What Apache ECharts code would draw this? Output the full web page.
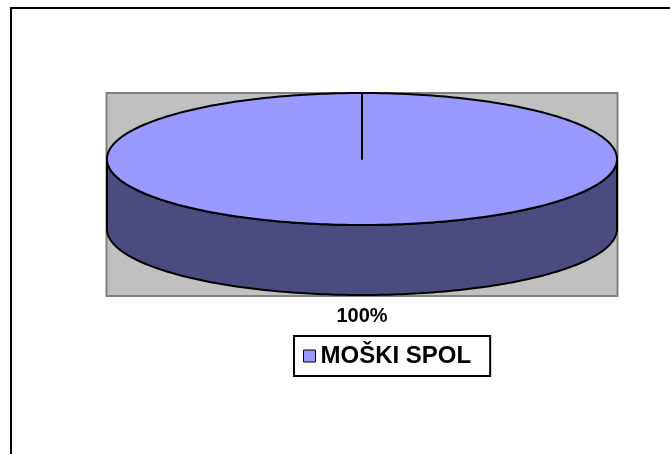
<!DOCTYPE html>
<html>
<head>
<meta charset="utf-8">
<script src="https://cdn.jsdelivr.net/npm/echarts@6/dist/echarts.min.js"></script>
<style>
html, body { margin: 0; padding: 0; background: #fff; }
#main { width: 670px; height: 454px; }
</style>
</head>
<body>
<div id="main"></div>
<script>
// chart data
var categories = ['MOŠKI SPOL'];
var values = [100];

// palette (top face / side face)
var topColors = ['#9999FF'];
var sideColors = ['#4B4B80'];

var pie = { cx: 362, cy: 159, rx: 255, ry: 66, depth: 70 };
var fontName = '"Liberation Sans", Arial, sans-serif';

var total = 0;
for (var k = 0; k < values.length; k++) total += values[k];

function ellipsePt(a, dy) {
	return [pie.cx + pie.rx * Math.cos(a), pie.cy + dy + pie.ry * Math.sin(a)];
}
function arcPts(a0, a1, dy) {
	var n = Math.max(2, Math.ceil(Math.abs(a1 - a0) / (Math.PI / 180)));
	var pts = [];
	for (var i = 0; i <= n; i++) {
		pts.push(ellipsePt(a0 + (a1 - a0) * i / n, dy));
	}
	return pts;
}

var renderSlice = function(params, api) {
	var idx = api.value(0);
	var before = 0;
	for (var j = 0; j < idx; j++) before += values[j];
	var a0 = -Math.PI / 2 + before / total * 2 * Math.PI;
	var a1 = a0 + api.value(1) / total * 2 * Math.PI;
	var children = [];
	// front wall, only the part facing the viewer
	var s0 = Math.max(a0, 0), s1 = Math.min(a1, Math.PI);
	if (s1 > s0) {
		children.push({
			type: 'polygon',
			shape: { points: arcPts(s0, s1, 0).concat(arcPts(s1, s0, pie.depth)) },
			style: { fill: sideColors[idx], stroke: '#000', lineWidth: 2, lineJoin: 'round' }
		});
	}
	// top face
	children.push({
		type: 'polygon',
		shape: { points: [[pie.cx, pie.cy]].concat(arcPts(a0, a1, 0)) },
		style: { fill: topColors[idx], stroke: '#000', lineWidth: 2, lineJoin: 'round' }
	});
	// percent label
	var mid = (a0 + a1) / 2;
	var sn = Math.sin(mid);
	children.push({
		type: 'text',
		style: {
			text: Math.round(api.value(1) / total * 100) + '%',
			x: pie.cx + (pie.rx + 24) * Math.cos(mid),
			y: pie.cy + (sn > 0 ? pie.depth : 0) + (pie.ry + 21) * sn,
			align: 'center',
			verticalAlign: 'middle',
			font: 'bold 20px ' + fontName,
			fill: '#000'
		}
	});
	return { type: 'group', children: children };
};

var series = [];
for (var i = 0; i < categories.length; i++) {
	series.push({
		type: 'custom',
		name: categories[i],
		coordinateSystem: 'none',
		itemStyle: { color: topColors[i], borderColor: '#000', borderWidth: 1 },
		renderItem: renderSlice,
		data: [[i, values[i]]]
	});
}

var myChart = echarts.init(document.getElementById('main'));
var option = {
	animation: false,
	backgroundColor: '#fff',
	graphic: [
		{
			type: 'rect',
			shape: { x: 11, y: 8, width: 720, height: 520 },
			style: { fill: 'none', stroke: '#000', lineWidth: 2 }
		},
		{
			type: 'rect',
			shape: { x: 106.5, y: 93, width: 511, height: 203 },
			style: { fill: '#C0C0C0', stroke: '#808080', lineWidth: 2 }
		}
	],
	legend: {
		data: categories,
		left: 294,
		top: 336,
		orient: 'horizontal',
		icon: 'rect',
		itemWidth: 12,
		itemHeight: 12,
		itemGap: 10,
		padding: [8, 19, 8, 9],
		borderColor: '#000',
		borderWidth: 2,
		borderRadius: 0,
		backgroundColor: '#fff',
		selectedMode: false,
		itemStyle: { borderColor: '#000', borderWidth: 1 },
		textStyle: { fontSize: 24, fontWeight: 'bold', color: '#000', fontFamily: fontName }
	},
	series: series
};
myChart.setOption(option);
</script>
</body>
</html>
